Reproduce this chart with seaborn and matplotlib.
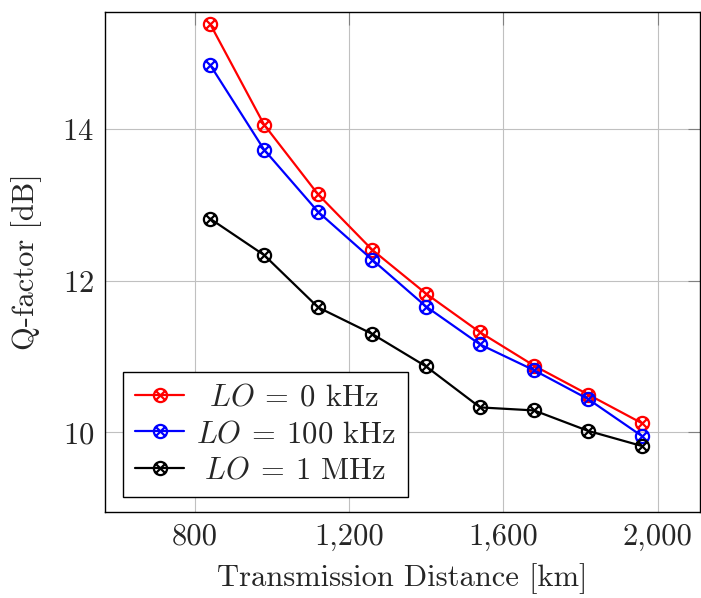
import numpy as np
import seaborn as sns
import pandas as pd
import matplotlib.pyplot as plt
from matplotlib.path import Path
from matplotlib.ticker import FuncFormatter

distance = [840, 980, 1120, 1260, 1400, 1540, 1680, 1820, 1960]
q_0khz = [15.39, 14.06, 13.14, 12.41, 11.83, 11.32, 10.88, 10.50, 10.12]
q_100khz = [14.85, 13.73, 12.91, 12.28, 11.66, 11.16, 10.82, 10.44, 9.95]
q_1mhz = [12.82, 12.34, 11.65, 11.30, 10.87, 10.33, 10.29, 10.02, 9.82]
# leading spaces roughly centre the entries like pgfplots does
labels = [r"$\enspace LO\:=\:0$ kHz", r"$LO\:=\:100$ kHz", r"$\ LO\:=\:1$ MHz"]
colors = ["#ff0000", "#0000ff", "#000000"]

df = pd.DataFrame({
    "distance": distance * 3,
    "q": q_0khz + q_100khz + q_1mhz,
    "series": [labels[0]] * 9 + [labels[1]] * 9 + [labels[2]] * 9,
})

sns.set_style("white")
plt.rcParams["font.family"] = ["cmr10", "DejaVu Serif"]
plt.rcParams["mathtext.fontset"] = "cm"
plt.rcParams["axes.formatter.use_mathtext"] = True

# circle with a cross inside (pgfplots "otimes")
c = 0.7071
otimes = Path.make_compound_path(
    Path.unit_circle(),
    Path([(-c, -c), (c, c)], [Path.MOVETO, Path.LINETO]),
    Path([(-c, c), (c, -c)], [Path.MOVETO, Path.LINETO]),
)

fig = plt.figure(figsize=(7.01, 5.98), dpi=100)
ax = fig.add_axes([0.150, 0.1438, 0.8486, 0.8366])

for lab, col in zip(labels, colors):
    sns.lineplot(data=df[df["series"] == lab], x="distance", y="q", ax=ax,
                 color=col, label=lab, marker=otimes, markersize=9.5,
                 markerfacecolor="none", markeredgecolor=col, markeredgewidth=1.6,
                 linewidth=1.6)

ax.set_xlim(568, 2110)
ax.set_ylim(8.95, 15.55)
ax.set_xticks([800, 1200, 1600, 2000])
ax.set_yticks([10, 12, 14])
ax.xaxis.set_major_formatter(FuncFormatter(lambda v, p: f"{v:,.0f}"))
ax.grid(True, color="#c0c0c0", linewidth=0.8)
ax.tick_params(direction="in", length=9, width=0.8, color="#808080",
               top=True, right=True, labelsize=22, pad=8)
for s in ax.spines.values():
    s.set_color("black")
    s.set_linewidth(1.0)

ax.set_xlabel("Transmission Distance [km]", fontsize=22, labelpad=9)
ax.set_ylabel("Q-factor [dB]", fontsize=22, labelpad=15)

leg = ax.legend(loc="lower left", bbox_to_anchor=(0.03, 0.03), borderaxespad=0,
                fontsize=22, frameon=True, fancybox=False, framealpha=1,
                edgecolor="black", handlelength=1.6, handletextpad=0.4,
                labelspacing=0.3, borderpad=0.4)
leg.get_frame().set_linewidth(1.0)

fig.savefig("out.png", dpi=100)
